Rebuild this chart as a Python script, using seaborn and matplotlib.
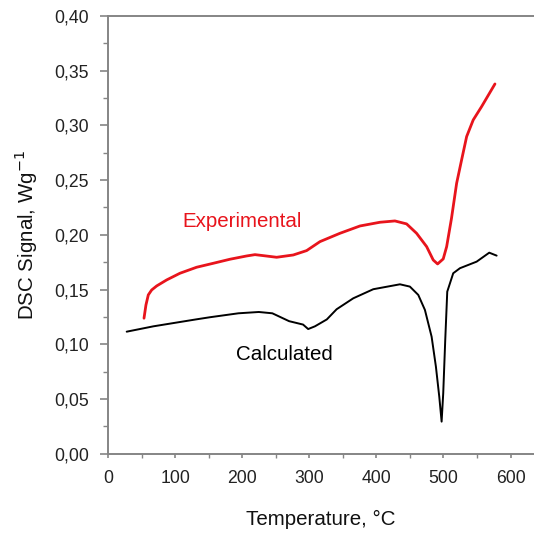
import matplotlib
matplotlib.use("Agg")
import matplotlib.pyplot as plt
from matplotlib.ticker import MultipleLocator, FixedLocator
import seaborn as sns
import pandas as pd

# DSC curves: temperature (°C) and heat-flow signal (W/g)
exp_temp = [53.7, 56.6, 60.1, 65.1, 72.6, 87.5, 107.3, 132.2, 156.9, 181.8,
            206.7, 219.1, 231.4, 251.4, 276.2, 296.1, 316, 345.7, 375.6, 405.4,
            427.7, 445.1, 460, 475, 484.8, 491.3, 499.7, 504.8, 512, 519.7,
            527.1, 534.6, 544.4, 556.9, 576.8]
exp_signal = [0.1238, 0.1359, 0.1451, 0.1496, 0.1533, 0.1588, 0.1649, 0.1704,
              0.1740, 0.1777, 0.1807, 0.1819, 0.1810, 0.1795, 0.1816, 0.1856,
              0.1938, 0.2014, 0.2081, 0.2115, 0.2127, 0.2100, 0.2014, 0.1892,
              0.1770, 0.1734, 0.1780, 0.1892, 0.2150, 0.2472, 0.2685, 0.2898,
              0.3050, 0.3172, 0.3379]

calc_temp = [27.9, 67.7, 131, 152, 194.4, 224.8, 245, 270, 290.8, 298.4, 308.5,
             326.2, 340.8, 365.6, 395.4, 435.2, 450, 462.5, 472.4, 482.4, 488.8,
             493.8, 497.3, 499.7, 502.7, 505.7, 514.6, 524.6, 549.5, 568.3, 579.3]
calc_signal = [0.1115, 0.1164, 0.1227, 0.1247, 0.1283, 0.1295, 0.1283, 0.1211,
               0.1180, 0.1139, 0.1164, 0.1227, 0.1320, 0.1420, 0.1503, 0.1548,
               0.1527, 0.1451, 0.1314, 0.1069, 0.0795, 0.0521, 0.0293, 0.0552,
               0.1039, 0.1481, 0.1649, 0.1695, 0.1755, 0.1837, 0.1810]

x_ticks = [0, 100, 200, 300, 400, 500, 600]
y_ticks = [0.00, 0.05, 0.10, 0.15, 0.20, 0.25, 0.30, 0.35, 0.40]
y_tick_labels = ["0,00", "0,05", "0,10", "0,15", "0,20", "0,25", "0,30", "0,35", "0,40"]

sns.set_style("ticks")
plt.rcParams["font.family"] = ["Liberation Sans", "DejaVu Sans"]

fig = plt.figure(figsize=(5.34, 5.33), dpi=100)
ax = fig.add_axes([0.2022, 0.1488, 1.0 - 0.2022, 0.97 - 0.1488])

exp_df = pd.DataFrame({"T": exp_temp, "S": exp_signal})
calc_df = pd.DataFrame({"T": calc_temp, "S": calc_signal})
sns.lineplot(data=exp_df, x="T", y="S", ax=ax, color="#e8141c", linewidth=2.0, sort=False)
sns.lineplot(data=calc_df, x="T", y="S", ax=ax, color="black", linewidth=1.4, sort=False)

ax.set_xlim(0, 635)
ax.set_ylim(0, 0.40)
ax.xaxis.set_major_locator(FixedLocator(x_ticks))
ax.xaxis.set_minor_locator(MultipleLocator(50))
ax.yaxis.set_major_locator(FixedLocator(y_ticks))
ax.set_yticklabels(y_tick_labels)
ax.yaxis.set_minor_locator(MultipleLocator(0.025))

spine_color = "#858585"
for side in ["left", "bottom", "top"]:
    ax.spines[side].set_color(spine_color)
    ax.spines[side].set_linewidth(1.4)
ax.spines["right"].set_visible(False)

ax.tick_params(axis="y", which="major", direction="out", length=6, width=1.2,
               color=spine_color, labelsize=12.7, labelcolor="#222222", pad=7.5)
ax.tick_params(axis="y", which="minor", direction="out", length=3.6, width=1.0,
               color=spine_color)
ax.tick_params(axis="x", which="major", direction="out", length=3, width=1.2,
               color=spine_color, labelsize=12.7, labelcolor="#222222", pad=9)
ax.tick_params(axis="x", which="minor", direction="out", length=3, width=1.0,
               color=spine_color)
ax.tick_params(axis="x", which="both", top=False)

ax.set_xlabel("Temperature, °C", fontsize=14.8, color="#111111", labelpad=16)
ax.set_ylabel("DSC Signal, Wg$^{-1}$", fontsize=14.8, color="#111111", labelpad=10)

ax.text(200.1, 0.2123, "Experimental", color="#e8141c", fontsize=14.8,
        ha="center", va="center")
ax.text(262.3, 0.0903, "Calculated", color="black", fontsize=14.8,
        ha="center", va="center")

fig.savefig("out.png", dpi=100)
